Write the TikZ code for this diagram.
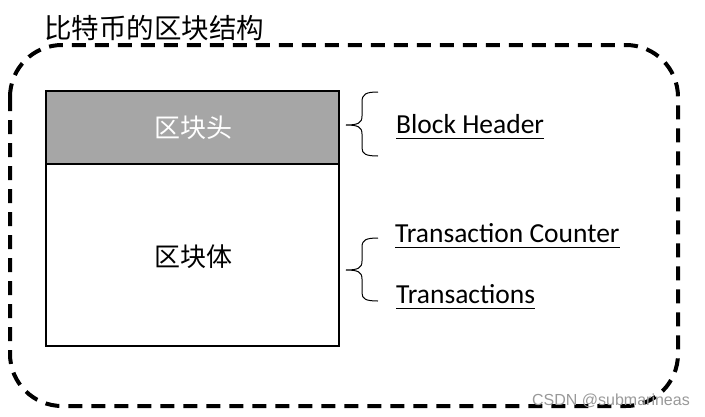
\documentclass[tikz,border=0pt]{standalone}
\usepackage{fontspec}
\setmainfont{Carlito}
\newfontfamily\cjk{Noto Sans CJK SC}
\newfontfamily\wmfont{Liberation Sans}
\definecolor{headgray}{HTML}{A6A6A6}
\tikzset{
  field/.style={anchor=base west, inner sep=0pt, font=\fontsize{27.5}{30}\selectfont},
  cjklabel/.style={anchor=center, inner sep=0pt, font=\cjk\fontsize{27.5}{30}\selectfont},
}
\begin{document}
\begin{tikzpicture}[x=1pt,y=-1pt]
\useasboundingbox (0,0) rectangle (705,416);
\draw[line width=4pt, dash pattern=on 14pt off 9pt, rounded corners=52pt] (10,45) rectangle (678,406);

\node[cjklabel, anchor=base west] (title) at (44,38) {比特币的区块结构};

\fill[headgray] (46,91) rectangle (339,164);
\draw[line width=2pt] (46,91) rectangle (339,346);
\draw[line width=2pt] (46,164) -- (339,164);

\node[cjklabel, font=\cjk\fontsize{26}{28}\selectfont, text=white] (head) at (193,128) {区块头};
\node[cjklabel, font=\cjk\fontsize{26}{28}\selectfont] (body) at (193,257) {区块体};

\draw[line width=1pt] (378,92) .. controls (366,92) and (362,94) .. (362,102) -- (362,116)
  .. controls (362,123) and (358,125) .. (346,125)
  .. controls (358,125) and (362,127) .. (362,134) -- (362,148)
  .. controls (362,154) and (366,156) .. (378,156);
\draw[line width=1pt] (378,238) .. controls (366,238) and (362,240) .. (362,247) -- (362,261)
  .. controls (362,268) and (358,270) .. (346,270)
  .. controls (358,270) and (362,272) .. (362,279) -- (362,293)
  .. controls (362,299) and (366,301) .. (378,301);

\node[field] (hdr) at (396,133) {Block Header};
\node[field] (cnt) at (395,242) {Transaction Counter};
\node[field] (txs) at (396,303) {Transactions};
\foreach \n in {hdr,cnt,txs}
  \draw[line width=1pt] ([yshift=-5pt]\n.base west) -- ([yshift=-5pt]\n.base east);

\node[anchor=base east, inner sep=0pt, text=gray!80, font=\wmfont\fontsize{16}{18}\selectfont] (mark) at (690,405) {CSDN @submarineas};
\end{tikzpicture}
\end{document}
